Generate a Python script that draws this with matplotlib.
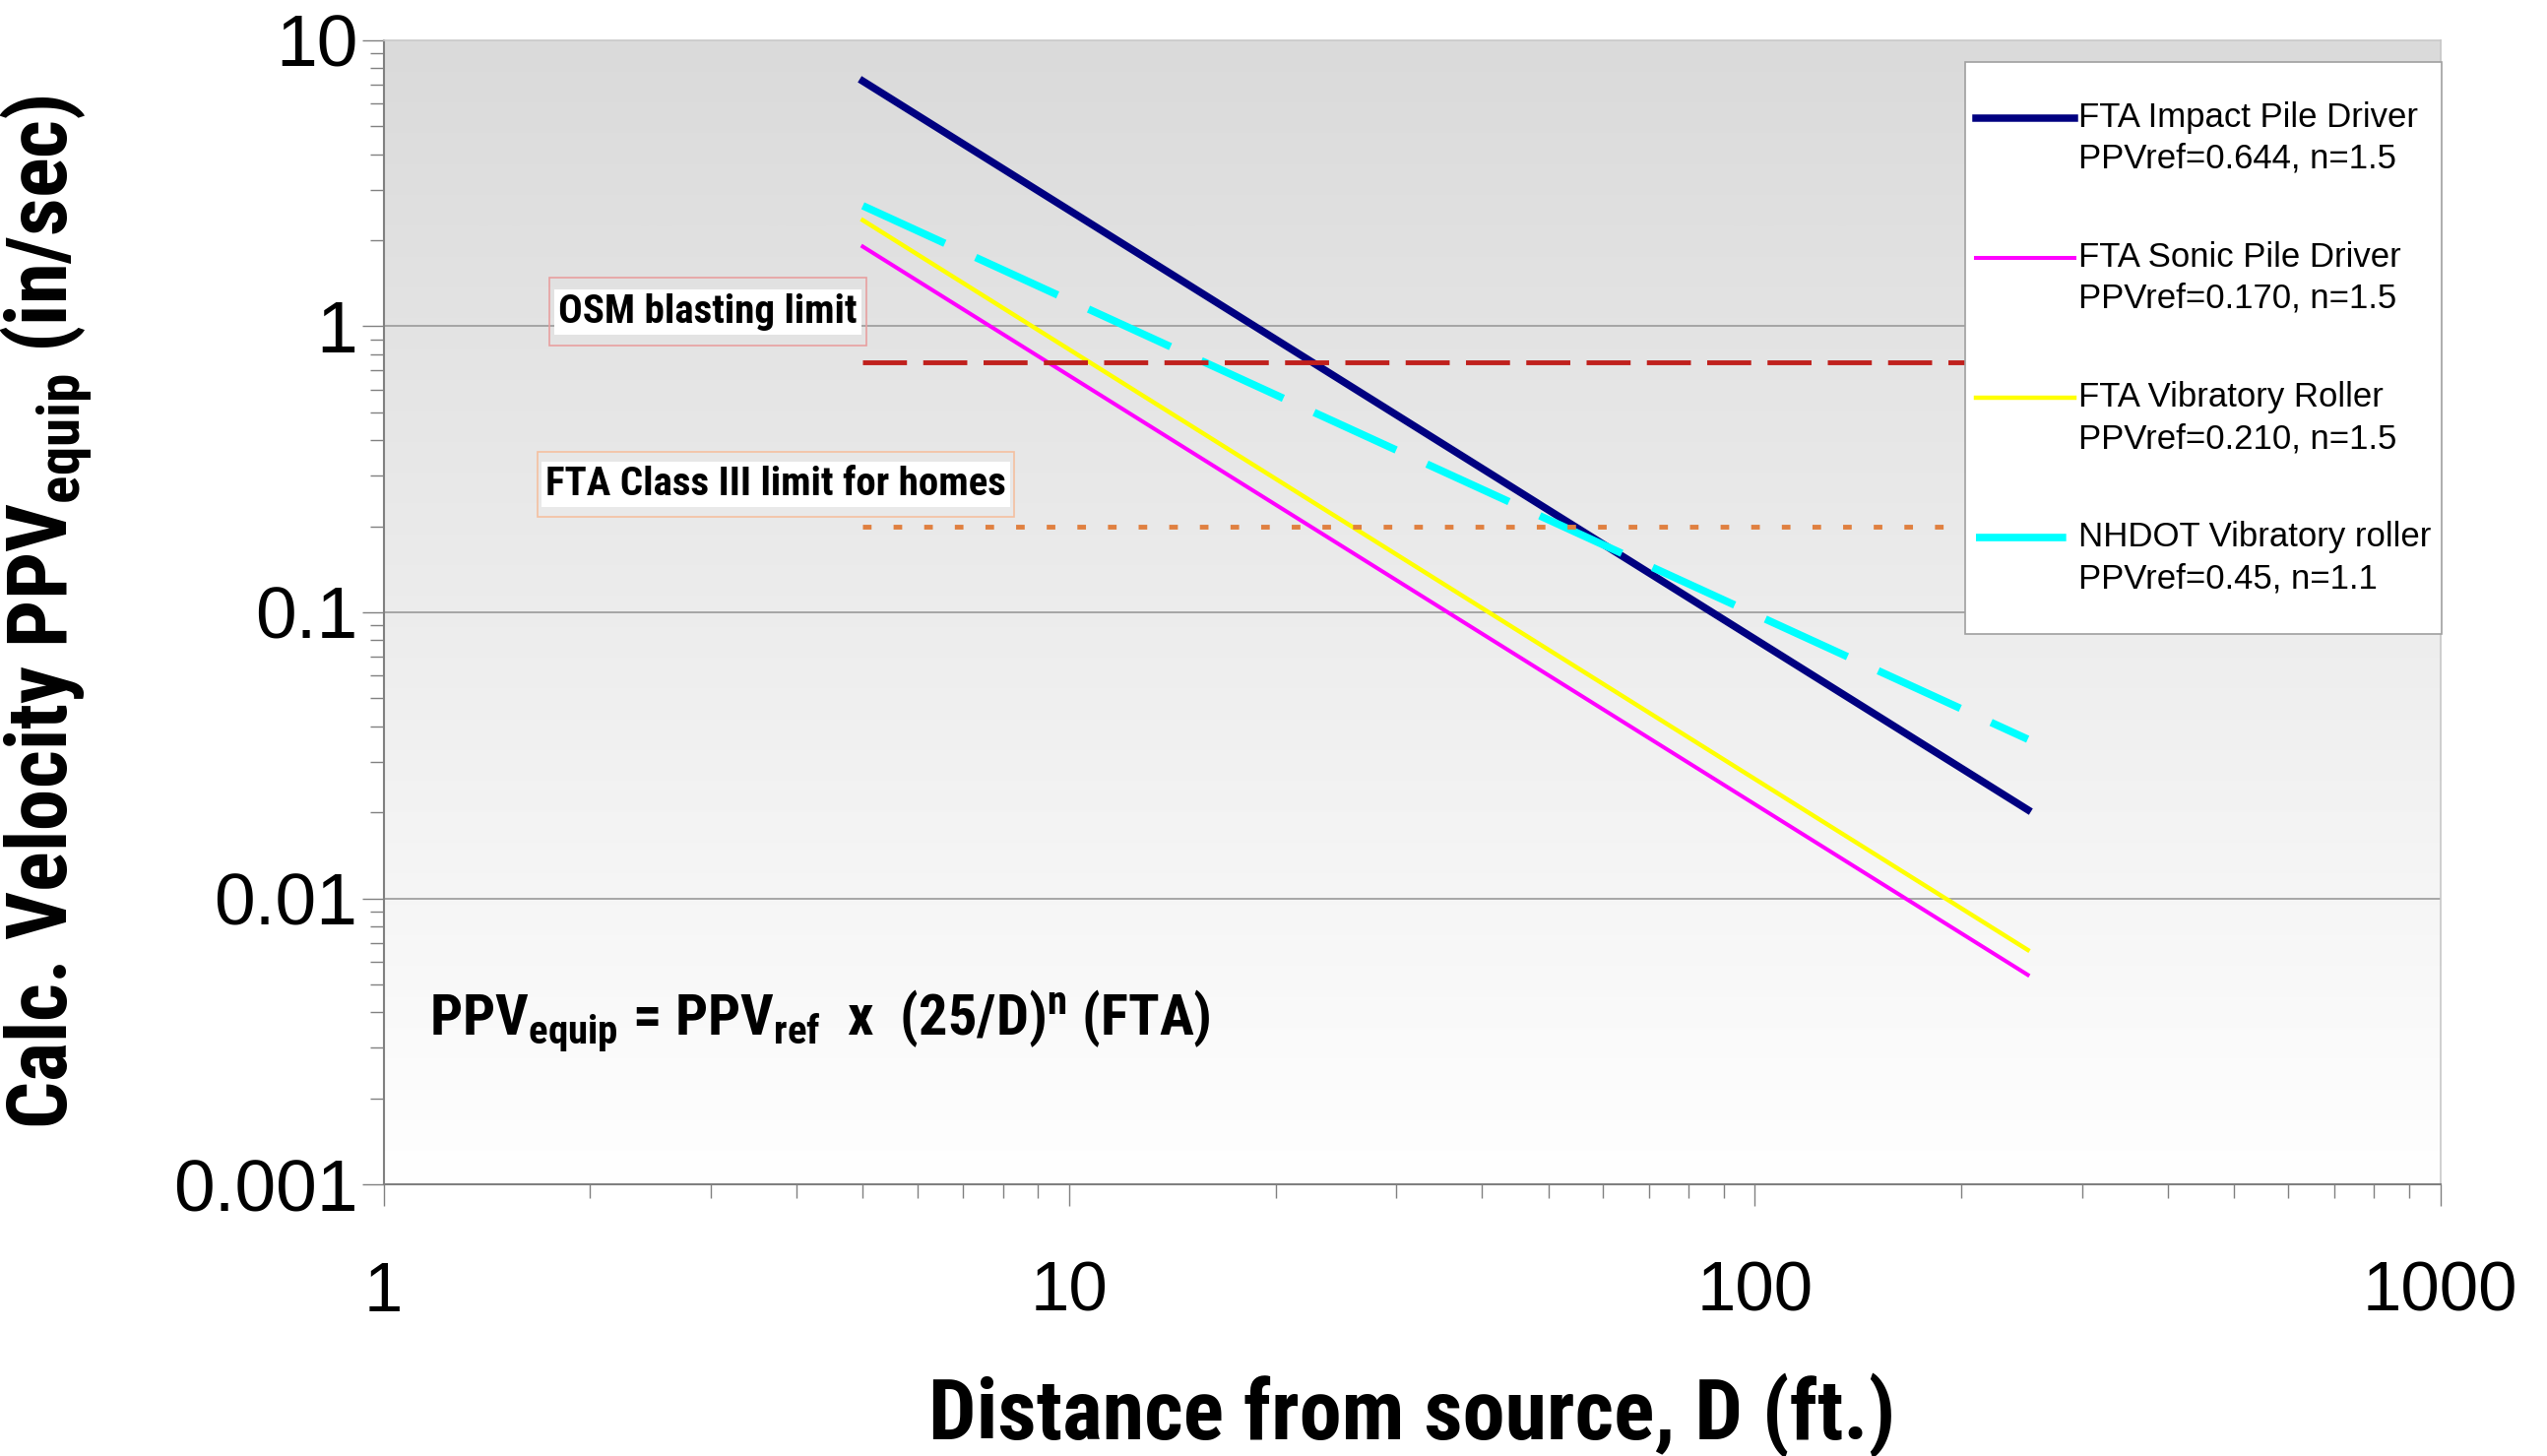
import numpy as np
import matplotlib
matplotlib.use("Agg")
import matplotlib.pyplot as plt
from matplotlib.lines import Line2D
from matplotlib.patches import Rectangle
from matplotlib.ticker import FixedLocator, FixedFormatter, LogLocator, NullFormatter

# line ends, distance in ft
distance = [5, 250]
# calculated PPV at the two ends (in/sec)
ppv_impact = [7.2, 0.0204]
ppv_sonic = [1.90, 0.0054]
ppv_roller = [2.35, 0.0066]
ppv_nhdot = [2.64, 0.036]
# limits
osm_limit = [0.75, 0.75]
fta_limit = [0.2, 0.2]

series_names = ["FTA Impact Pile Driver", "FTA Sonic Pile Driver",
                "FTA Vibratory Roller", "NHDOT Vibratory roller"]
series_params = ["PPVref=0.644, n=1.5", "PPVref=0.170, n=1.5",
                 "PPVref=0.210, n=1.5", "PPVref=0.45, n=1.1"]

x_ticks = [1, 10, 100, 1000]
x_tick_labels = ["1", "10", "100", "1000"]
y_ticks = [0.001, 0.01, 0.1, 1, 10]
y_tick_labels = ["0.001", "0.01", "0.1", "1", "10"]

NARROW = ["Roboto Condensed", "PT Sans Narrow", "DejaVu Sans"]
REG = ["Liberation Sans", "DejaVu Sans"]

plt.rcParams["font.family"] = REG
plt.rcParams["mathtext.fontset"] = "custom"
plt.rcParams["mathtext.rm"] = "Roboto Condensed:bold"
plt.rcParams["mathtext.it"] = "Roboto Condensed:bold"
plt.rcParams["mathtext.bf"] = "Roboto Condensed:bold"
plt.rcParams["mathtext.default"] = "rm"

narrow_bold = dict(family=NARROW, fontweight="bold", fontstretch="condensed")

fig = plt.figure(figsize=(25.87, 14.79), dpi=100)
ax = fig.add_axes([0.1506, 0.1866, 0.8076, 0.7857])

# grey-to-white background
grad = np.linspace(1.0, 0.855, 256)[:, None]
ax.imshow(np.dstack([grad, grad, grad]), extent=[0, 1, 0, 1], transform=ax.transAxes,
          aspect="auto", origin="lower", zorder=0, interpolation="bicubic")

ax.set_xscale("log")
ax.set_yscale("log")

for yv in [0.01, 0.1, 1]:
    ax.axhline(yv, color="#a0a0a0", lw=1.3, zorder=1)

l1, = ax.plot(distance, ppv_impact, color="#000080", lw=5.4, zorder=4)
l2, = ax.plot(distance, ppv_sonic, color="#ff00ff", lw=2.9, zorder=4)
l3, = ax.plot(distance, ppv_roller, color="#ffff00", lw=3.2, zorder=4)
l4, = ax.plot(distance, ppv_nhdot, color="#00ffff", lw=5.5, zorder=4,
              dashes=(12, 4.5), dash_capstyle="butt")

ax.plot(distance, osm_limit, color="#c0201c", lw=3.5, dashes=(9.2, 3.4), zorder=5)
ax.plot(distance, fta_limit, color="#e08040", lw=3.5, dashes=(1.8, 4.6), zorder=5)

ax.set_xlim(1, 1000)
ax.set_ylim(0.001, 10)

ax.xaxis.set_major_locator(FixedLocator(x_ticks))
ax.xaxis.set_major_formatter(FixedFormatter(x_tick_labels))
ax.yaxis.set_major_locator(FixedLocator(y_ticks))
ax.yaxis.set_major_formatter(FixedFormatter(y_tick_labels))
ax.xaxis.set_minor_locator(LogLocator(base=10, subs=np.arange(2, 10)))
ax.yaxis.set_minor_locator(LogLocator(base=10, subs=np.arange(2, 10)))
ax.xaxis.set_minor_formatter(NullFormatter())
ax.yaxis.set_minor_formatter(NullFormatter())

ax.tick_params(axis="both", which="major", direction="out", length=16, width=1,
               color="#808080", labelsize=51, labelcolor="black")
ax.tick_params(axis="both", which="minor", direction="out", length=10, width=1,
               color="#808080")
ax.tick_params(axis="x", which="major", pad=40)
ax.tick_params(axis="y", which="major", pad=3, labelsize=54)

for side in ["left", "bottom"]:
    ax.spines[side].set_color("#808080")
    ax.spines[side].set_linewidth(1.5)
for side in ["top", "right"]:
    ax.spines[side].set_color("#c8c8c8")
    ax.spines[side].set_linewidth(1.2)

ax.set_xlabel("Distance from source, D (ft.)", fontsize=62, **narrow_bold)
ax.xaxis.set_label_coords(0.5, -0.165)
ax.set_ylabel(r"Calc. Velocity PPV$_{equip}$ (in/sec)", fontsize=61, **narrow_bold)
ax.yaxis.set_label_coords(-0.1405, 0.5)

# limit labels
ax.text(0.1576, 0.7628, "OSM blasting limit", transform=ax.transAxes, ha="center",
        va="center", fontsize=29.5, zorder=6, **narrow_bold,
        bbox=dict(boxstyle="square,pad=0.1", facecolor="white", edgecolor="none"))
ax.add_patch(Rectangle((0.0806, 0.733), 0.154, 0.0596, transform=ax.transAxes,
                       fill=False, edgecolor="#e8a0a0", lw=1.2, zorder=6))
ax.text(0.1908, 0.6122, "FTA Class III limit for homes", transform=ax.transAxes,
        ha="center", va="center", fontsize=29.5, zorder=6, **narrow_bold,
        bbox=dict(boxstyle="square,pad=0.1", facecolor="white", edgecolor="none"))
ax.add_patch(Rectangle((0.0750, 0.5838), 0.2315, 0.0568, transform=ax.transAxes,
                       fill=False, edgecolor="#f5c0a0", lw=1.2, zorder=6))

ax.text(0.0221, 0.1307, r"PPV$_{equip}$ = PPV$_{ref}$  x  (25/D)$^{n}$ (FTA)",
        transform=ax.transAxes, ha="left", va="baseline", fontsize=42,
        zorder=6, **narrow_bold)

blank = Line2D([], [], color="none")
handles = [blank]
labels = [" "]
for i, h in enumerate([l1, l2, l3, l4]):
    handles += [h, blank, blank]
    labels += [series_names[i], series_params[i], " "]
leg = ax.legend(handles, labels, loc="upper left", bbox_to_anchor=(0.769, 0.981),
                borderaxespad=0, fontsize=25, frameon=True, fancybox=False,
                edgecolor="#a0a0a0", framealpha=1, handlelength=2.9,
                handleheight=0.2, handletextpad=0.1, labelspacing=0.25,
                borderpad=0.3)
leg.get_frame().set_linewidth(1.2)
leg.set_zorder(10)
texts = leg.get_texts()
texts[0].set_fontsize(6.4)
for k in [3, 6, 9]:
    texts[k].set_fontsize(38.9)
texts[12].set_fontsize(7.8)

fig.savefig("out.png", dpi=100)
